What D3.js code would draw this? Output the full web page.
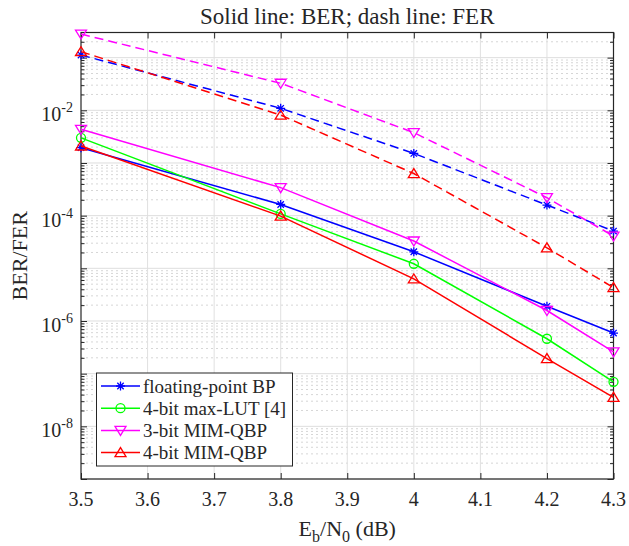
<html>
<head>
<style>
  body { margin: 0; background: #fff; }
  text { font-family: "Liberation Serif", "Times New Roman", serif; fill: #262626; }
</style>
<script src="https://d3js.org/d3.v7.min.js"></script>
</head>
<body>
<svg width="629" height="546"></svg>
<script>
// data
let snr = [3.5, 3.8, 4.0, 4.2, 4.3];
let xTicks = [3.5, 3.6, 3.7, 3.8, 3.9, 4.0, 4.1, 4.2, 4.3];
let yExps = [-8, -6, -4, -2];

let berFloat  = [1.95e-3, 1.63e-4, 2.06e-5, 1.9e-6, 5.9e-7];
let berMaxLut = [3.0e-3, 1.08e-4, 1.22e-5, 4.6e-7, 7.0e-8];
let ber3bit   = [4.35e-3, 3.4e-4, 3.3e-5, 1.58e-6, 2.6e-7];
let ber4bit   = [2.1e-3, 9.8e-5, 6.3e-6, 1.93e-7, 3.55e-8];
let ferFloat  = [0.112, 0.0109, 1.52e-3, 1.59e-4, 5.1e-5];
let fer3bit   = [0.28, 0.0326, 3.77e-3, 2.19e-4, 4.1e-5];
let fer4bit   = [0.13, 8.1e-3, 6.3e-4, 2.45e-5, 4.3e-6];

let svg = d3.select("svg"),
    pLeft = 81, pRight = 613.5, pTop = 32.5, pBottom = 479;

let xScale = d3.scaleLinear().domain([3.5, 4.3]).range([pLeft, pRight]),
    yScale = d3.scaleLog().domain([1e-9, 0.3]).range([pBottom, pTop]);

// grid
let majorY = d3.range(-9, 0).map(function(e) { return Math.pow(10, e); });
let minorY = [];
d3.range(-9, 0).forEach(function(e) {
    for (let k = 2; k <= 9; k++) {
        let v = k * Math.pow(10, e);
        if (v <= 0.3) minorY.push(v);
    }
});

let grid = svg.append("g");
grid.selectAll(".minor").data(minorY).enter().append("line")
    .attr("x1", pLeft).attr("x2", pRight)
    .attr("y1", function(d) { return yScale(d); })
    .attr("y2", function(d) { return yScale(d); })
    .attr("stroke", "#d6d6d6").attr("stroke-width", 1)
    .attr("stroke-dasharray", "2,3");
grid.selectAll(".vgrid").data(xTicks.slice(1, -1)).enter().append("line")
    .attr("y1", pTop).attr("y2", pBottom)
    .attr("x1", function(d) { return xScale(d); })
    .attr("x2", function(d) { return xScale(d); })
    .attr("stroke", "#e0e0e0").attr("stroke-width", 1);
grid.selectAll(".major").data(majorY).enter().append("line")
    .attr("x1", pLeft).attr("x2", pRight)
    .attr("y1", function(d) { return yScale(d); })
    .attr("y2", function(d) { return yScale(d); })
    .attr("stroke", "#dedede").attr("stroke-width", 1);

// axes (inward ticks)
function styleAxis(g) {
    g.select(".domain").remove();
    g.selectAll("line").attr("stroke", "#262626");
    g.selectAll("text").remove();
}
svg.append("g").attr("transform", "translate(0," + pBottom + ")")
    .call(d3.axisBottom(xScale).tickValues(xTicks).tickSize(-6)).call(styleAxis);
svg.append("g").attr("transform", "translate(0," + pTop + ")")
    .call(d3.axisTop(xScale).tickValues(xTicks).tickSize(-6)).call(styleAxis);
svg.append("g").attr("transform", "translate(" + pLeft + ",0)")
    .call(d3.axisLeft(yScale).tickValues(majorY).tickSize(-6)).call(styleAxis);
svg.append("g").attr("transform", "translate(" + pLeft + ",0)")
    .call(d3.axisLeft(yScale).tickValues(minorY).tickSize(-3.5)).call(styleAxis);
svg.append("g").attr("transform", "translate(" + pRight + ",0)")
    .call(d3.axisRight(yScale).tickValues(majorY).tickSize(-6)).call(styleAxis);
svg.append("g").attr("transform", "translate(" + pRight + ",0)")
    .call(d3.axisRight(yScale).tickValues(minorY).tickSize(-3.5)).call(styleAxis);

svg.append("rect").attr("x", pLeft).attr("y", pTop)
    .attr("width", pRight - pLeft).attr("height", pBottom - pTop)
    .attr("fill", "none").attr("stroke", "#262626").attr("stroke-width", 1.2);

// tick labels
svg.selectAll(".xl").data(xTicks).enter().append("text")
    .attr("x", function(d) { return xScale(d); })
    .attr("y", pBottom + 27)
    .attr("text-anchor", "middle").attr("font-size", 20)
    .text(function(d) { return d3.format("")(+d.toFixed(1)); });

let yl = svg.selectAll(".yl").data(yExps).enter().append("text")
    .attr("x", pLeft - 8)
    .attr("y", function(d) { return yScale(Math.pow(10, d)) + 11; })
    .attr("text-anchor", "end").attr("font-size", 20);
yl.append("tspan").text("10");
yl.append("tspan").attr("font-size", 14).attr("dy", -9).text(function(d) { return "-" + Math.abs(d); });

// labels
svg.append("text").attr("x", (pLeft + pRight) / 2).attr("y", 24)
    .attr("text-anchor", "middle").attr("font-size", 23)
    .text("Solid line: BER; dash line: FER");

let xl = svg.append("text").attr("x", (pLeft + pRight) / 2).attr("y", 536)
    .attr("text-anchor", "middle").attr("font-size", 22);
xl.append("tspan").text("E");
xl.append("tspan").attr("font-size", 16).attr("dy", 6).text("b");
xl.append("tspan").attr("dy", -6).text("/N");
xl.append("tspan").attr("font-size", 16).attr("dy", 6).text("0");
xl.append("tspan").attr("dy", -6).text(" (dB)");

svg.append("text").attr("transform", "translate(27," + (pTop + pBottom) / 2 + ") rotate(-90)")
    .attr("text-anchor", "middle").attr("font-size", 22).text("BER/FER");

// series
let series = [
    { name: "floating-point BP", ber: berFloat, fer: ferFloat, color: "#0000ff", marker: "star" },
    { name: "4-bit max-LUT [4]", ber: berMaxLut, fer: null, color: "#00ff00", marker: "circle" },
    { name: "3-bit MIM-QBP", ber: ber3bit, fer: fer3bit, color: "#ff00ff", marker: "down" },
    { name: "4-bit MIM-QBP", ber: ber4bit, fer: fer4bit, color: "#ff0000", marker: "up" }
];

function markerPath(type) {
    if (type === "star") return "M-4.5,0H4.5M0,-4.5V4.5M-3.2,-3.2L3.2,3.2M-3.2,3.2L3.2,-3.2";
    if (type === "circle") return "M4.5,0A4.5,4.5 0 1,1 -4.5,0A4.5,4.5 0 1,1 4.5,0Z";
    if (type === "down") return "M-5.5,-4L5.5,-4L0,5Z";
    return "M-5.5,4L5.5,4L0,-5Z";
}

let line = d3.line()
    .x(function(d, i) { return xScale(snr[i]); })
    .y(function(d) { return yScale(d); });

let plot = svg.append("g");
series.forEach(function(s) {
    [s.fer, s.ber].forEach(function(vals, j) {
        if (!vals) return;
        plot.append("path").datum(vals).attr("d", line)
            .attr("fill", "none").attr("stroke", s.color).attr("stroke-width", 1.5)
            .attr("stroke-dasharray", j === 0 ? "9,5" : null);
        plot.selectAll(null).data(vals).enter().append("path")
            .attr("transform", function(d, i) { return "translate(" + xScale(snr[i]) + "," + yScale(d) + ")"; })
            .attr("d", markerPath(s.marker))
            .attr("fill", "none").attr("stroke", s.color).attr("stroke-width", 1.3);
    });
});

// legend
let lg = svg.append("g");
lg.append("rect").attr("x", 96.5).attr("y", 373).attr("width", 196).attr("height", 93)
    .attr("fill", "#fff").attr("stroke", "#262626").attr("stroke-width", 1);
series.forEach(function(s, i) {
    let y = 386 + i * 22.2;
    lg.append("line").attr("x1", 101).attr("x2", 140).attr("y1", y).attr("y2", y)
        .attr("stroke", s.color).attr("stroke-width", 1.5);
    lg.append("path").attr("transform", "translate(120.5," + y + ")")
        .attr("d", markerPath(s.marker)).attr("fill", "none")
        .attr("stroke", s.color).attr("stroke-width", 1.3);
    lg.append("text").attr("x", 143).attr("y", y + 6.5).attr("font-size", 19).text(s.name);
});
</script>
</body>
</html>
